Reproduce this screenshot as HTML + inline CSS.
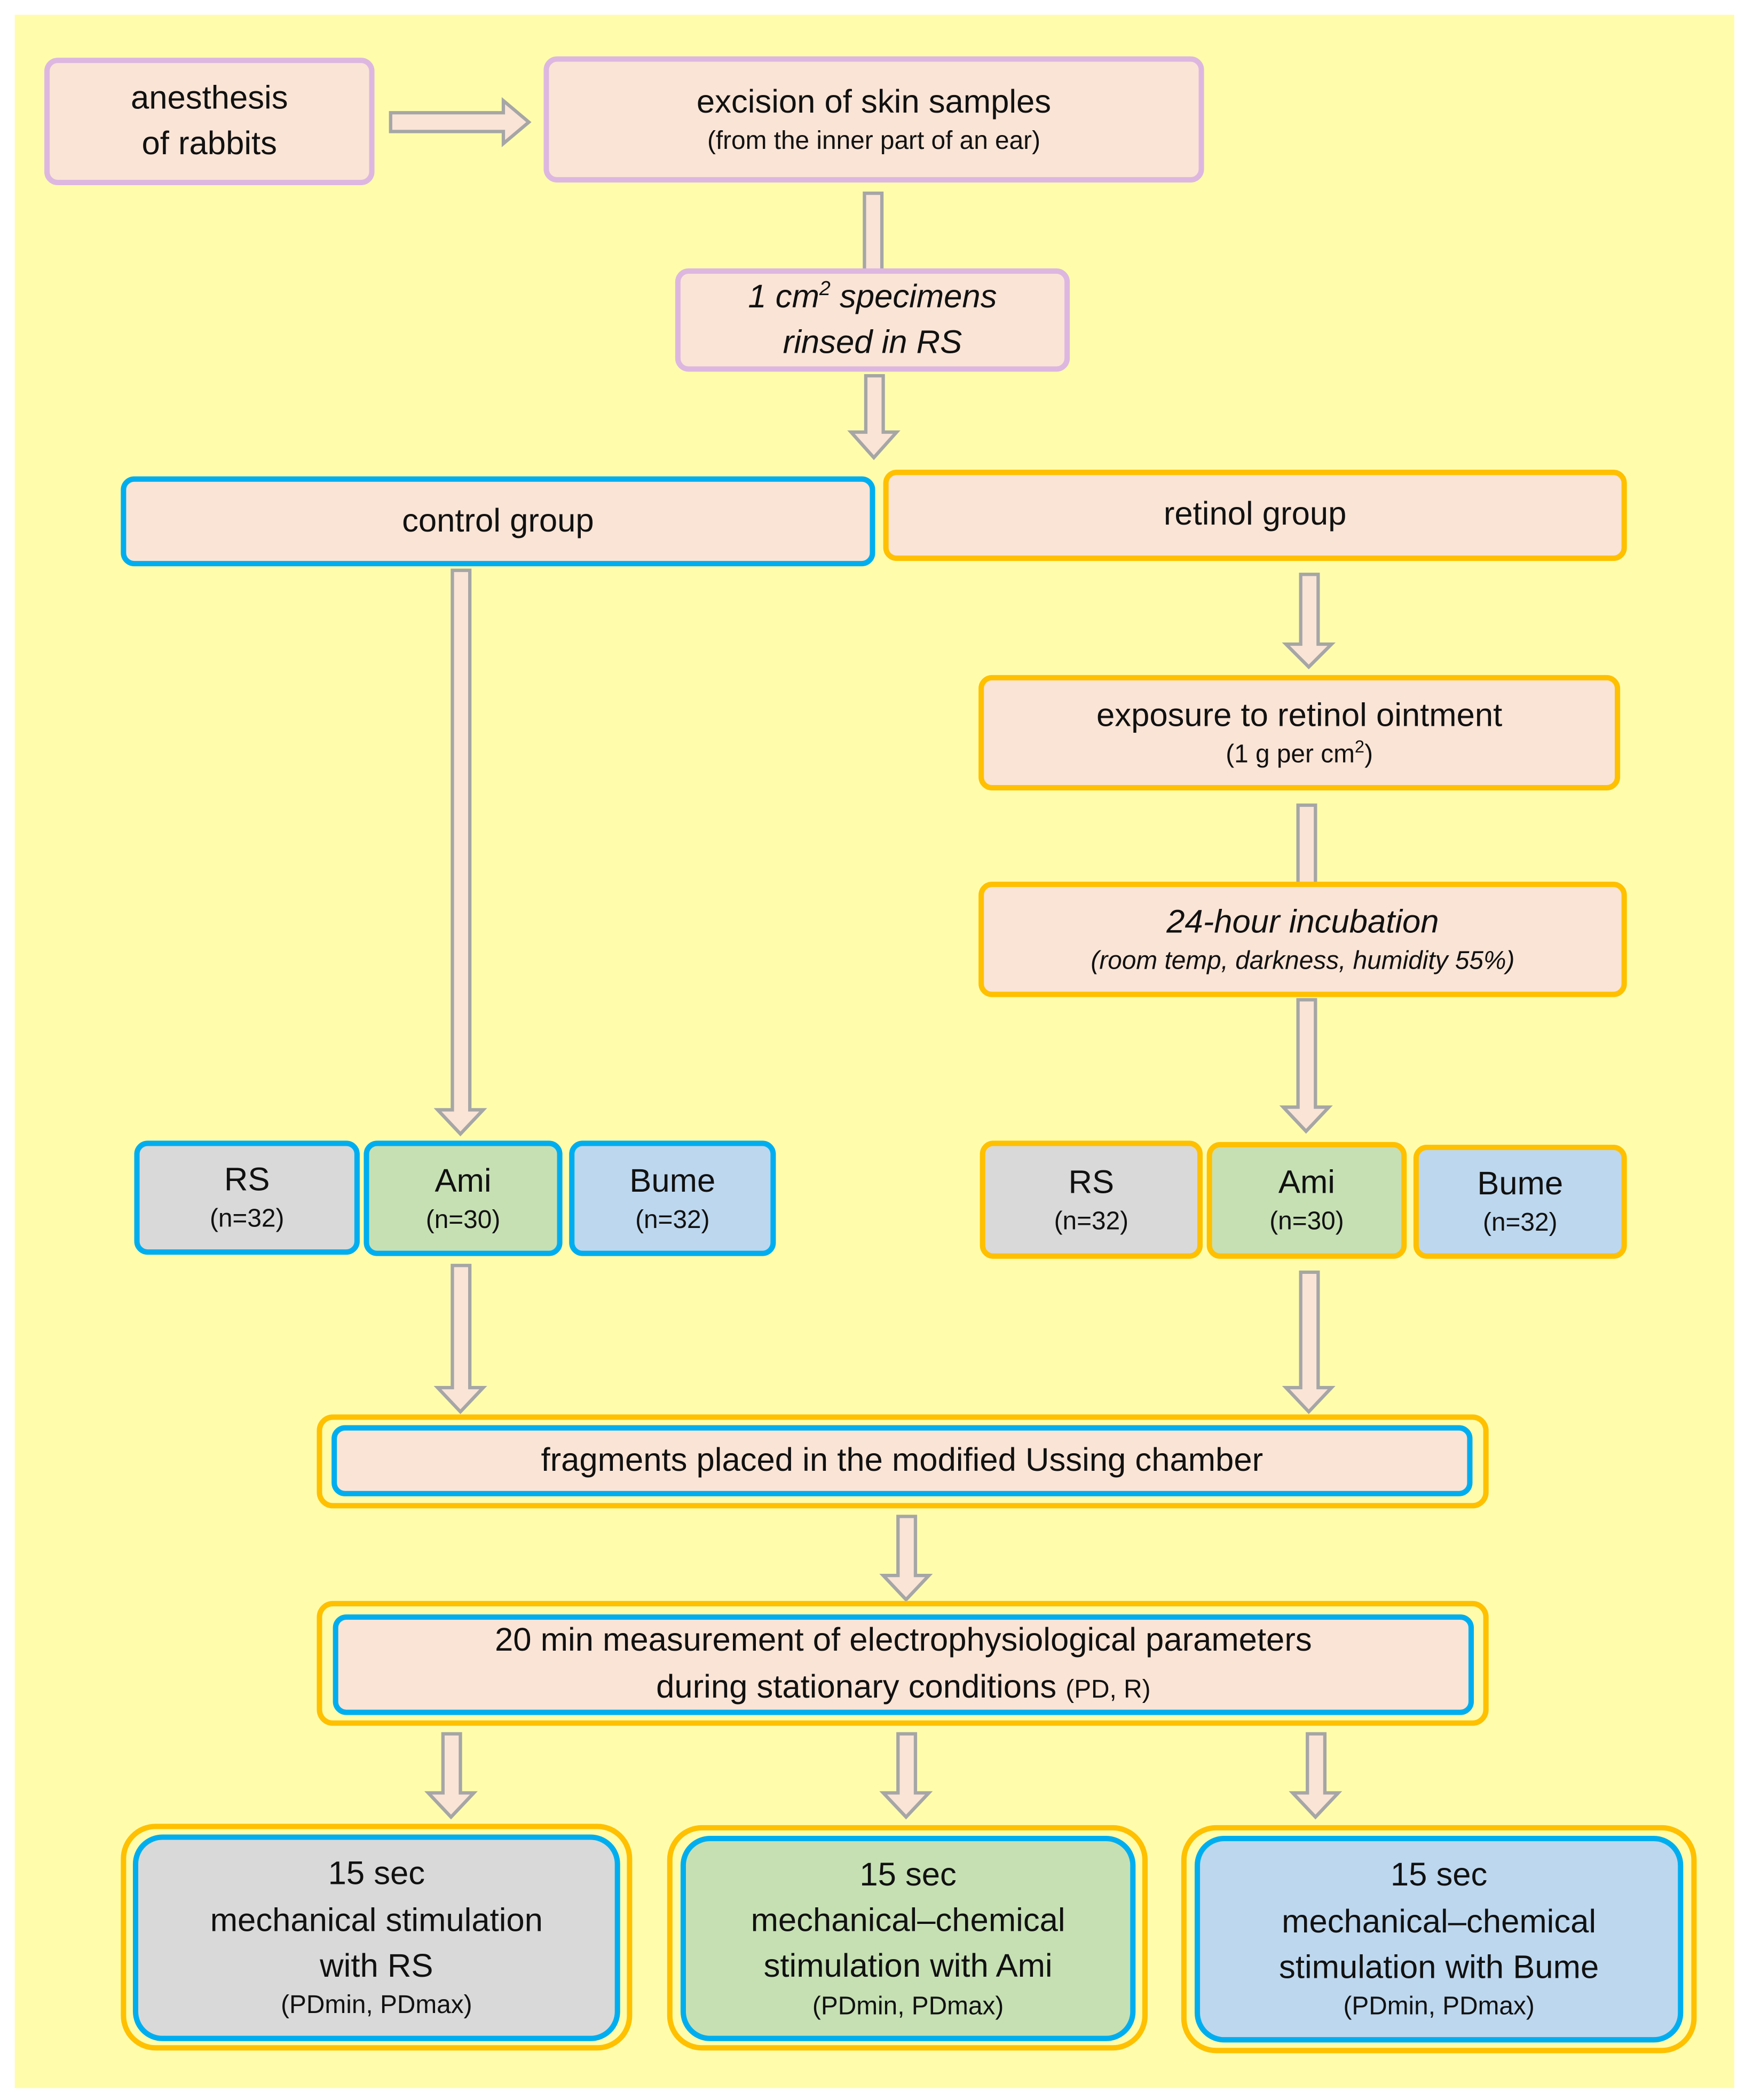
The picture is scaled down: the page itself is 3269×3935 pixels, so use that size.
<!DOCTYPE html>
<html><head><meta charset="utf-8"><style>
html,body{margin:0;padding:0;background:#fff}
#root{position:absolute;left:0;top:0;width:1300px;height:1565px;transform:scale(2.5146);transform-origin:0 0;font-family:"Liberation Sans",sans-serif;color:#111}
.bg{position:absolute;left:11px;top:11px;width:1281px;height:1545px;background:#FFFDAC}
.b{position:absolute;box-sizing:border-box;border:4px solid;border-radius:10px;background:#FAE4D6;display:flex;flex-direction:column;align-items:center;justify-content:center;text-align:center;font-size:24.5px;line-height:1.35}
.p{border-color:#DDB7E0}.bl{border-color:#00AEEF}.o{border-color:#FFC000}
.s{font-size:19px}
.i{font-style:italic}
.g{background:#D9D9D9}.gr{background:#C6E0B4}.bu{background:#BDD7EE}
.w{position:absolute;box-sizing:border-box;border:4px solid #FFC000;border-radius:12px;background:#FFFDAC}
svg{position:absolute;left:0;top:0}
</style></head><body><div id="root">
<div class="bg"></div>
<svg width="1300" height="1565" viewBox="0 0 1300 1565">
<g fill="#FAE4D6" stroke="#A6A6A6" stroke-width="2.5">
<polygon points="291,84 375,84 375,75 394,91 375,107 375,98 291,98"/>
<rect x="644" y="144" width="13" height="60"/>
<polygon points="645,280 658,280 658,322 668,322 651,341 634,322 645,322"/>
<polygon points="337,425 350,425 350,827 360,827 343,845 326,827 337,827"/>
<polygon points="969,428 982,428 982,480 992,480 975,497 958,480 969,480"/>
<rect x="967" y="600" width="13" height="60"/>
<polygon points="967,745 980,745 980,825 990,825 973,843 956,825 967,825"/>
<polygon points="337,943 350,943 350,1034 360,1034 343,1052 326,1034 337,1034"/>
<polygon points="969,948 982,948 982,1034 992,1034 975,1052 958,1034 969,1034"/>
<polygon points="669,1130 682,1130 682,1174 692,1174 675,1192 658,1174 669,1174"/>
<polygon points="330,1292 343,1292 343,1336 353,1336 336,1354 319,1336 330,1336"/>
<polygon points="669,1292 682,1292 682,1336 692,1336 675,1354 658,1336 669,1336"/>
<polygon points="974,1292 987,1292 987,1336 997,1336 980,1354 963,1336 974,1336"/>
</g></svg>

<div class="b p" style="left:33px;top:43px;width:246px;height:95px"><div>anesthesis<br>of rabbits</div></div>
<div class="b p" style="left:405px;top:42px;width:492px;height:94px"><div>excision of skin samples</div><div class="s">(from the inner part of an ear)</div></div>
<div class="b p i" style="left:503px;top:200px;width:294px;height:77px"><div>1 cm<sup style="font-size:15px;line-height:0">2</sup> specimens<br>rinsed in RS</div></div>
<div class="b bl" style="left:90px;top:355px;width:562px;height:67px">control group</div>
<div class="b o" style="left:658px;top:350px;width:554px;height:68px">retinol group</div>
<div class="b o" style="left:729px;top:503px;width:478px;height:86px"><div>exposure to retinol ointment</div><div class="s">(1 g per cm<sup style="font-size:13px;line-height:0">2</sup>)</div></div>
<div class="b o" style="left:729px;top:657px;width:483px;height:86px"><div class="i">24-hour incubation</div><div class="s i">(room temp, darkness, humidity 55%)</div></div>

<div class="b bl g" style="left:100px;top:850px;width:168px;height:85px"><div>RS</div><div class="s">(n=32)</div></div>
<div class="b bl gr" style="left:271px;top:850px;width:148px;height:86px"><div>Ami</div><div class="s">(n=30)</div></div>
<div class="b bl bu" style="left:424px;top:850px;width:154px;height:86px"><div>Bume</div><div class="s">(n=32)</div></div>
<div class="b o g" style="left:730px;top:850px;width:166px;height:88px"><div>RS</div><div class="s">(n=32)</div></div>
<div class="b o gr" style="left:899px;top:851px;width:149px;height:87px"><div>Ami</div><div class="s">(n=30)</div></div>
<div class="b o bu" style="left:1053px;top:853px;width:159px;height:85px"><div>Bume</div><div class="s">(n=32)</div></div>

<div class="w" style="left:236px;top:1054px;width:873px;height:70px"></div>
<div class="b bl" style="left:247px;top:1062px;width:850px;height:53px">fragments placed in the modified Ussing chamber</div>
<div class="w" style="left:236px;top:1193px;width:873px;height:93px"></div>
<div class="b bl" style="left:248px;top:1203px;width:850px;height:75px;line-height:1.4"><div>20 min measurement of electrophysiological parameters</div><div>during stationary conditions <span class="s">(PD, R)</span></div></div>

<div class="w" style="left:90px;top:1359px;width:381px;height:169px;border-radius:26px"></div>
<div class="b bl g" style="left:99px;top:1367px;width:363px;height:154px;border-radius:22px;line-height:1.4"><div>15 sec<br>mechanical stimulation<br>with RS</div><div class="s" style="line-height:1.3">(PDmin, PDmax)</div></div>
<div class="w" style="left:497px;top:1360px;width:358px;height:168px;border-radius:26px"></div>
<div class="b bl gr" style="left:507px;top:1368px;width:339px;height:153px;border-radius:22px;line-height:1.4"><div>15 sec<br>mechanical–chemical<br>stimulation with Ami</div><div class="s" style="line-height:1.3">(PDmin, PDmax)</div></div>
<div class="w" style="left:880px;top:1360px;width:384px;height:170px;border-radius:26px"></div>
<div class="b bl bu" style="left:890px;top:1368px;width:364px;height:154px;border-radius:22px;line-height:1.4"><div>15 sec<br>mechanical–chemical<br>stimulation with Bume</div><div class="s" style="line-height:1.3">(PDmin, PDmax)</div></div>
</div></body></html>
